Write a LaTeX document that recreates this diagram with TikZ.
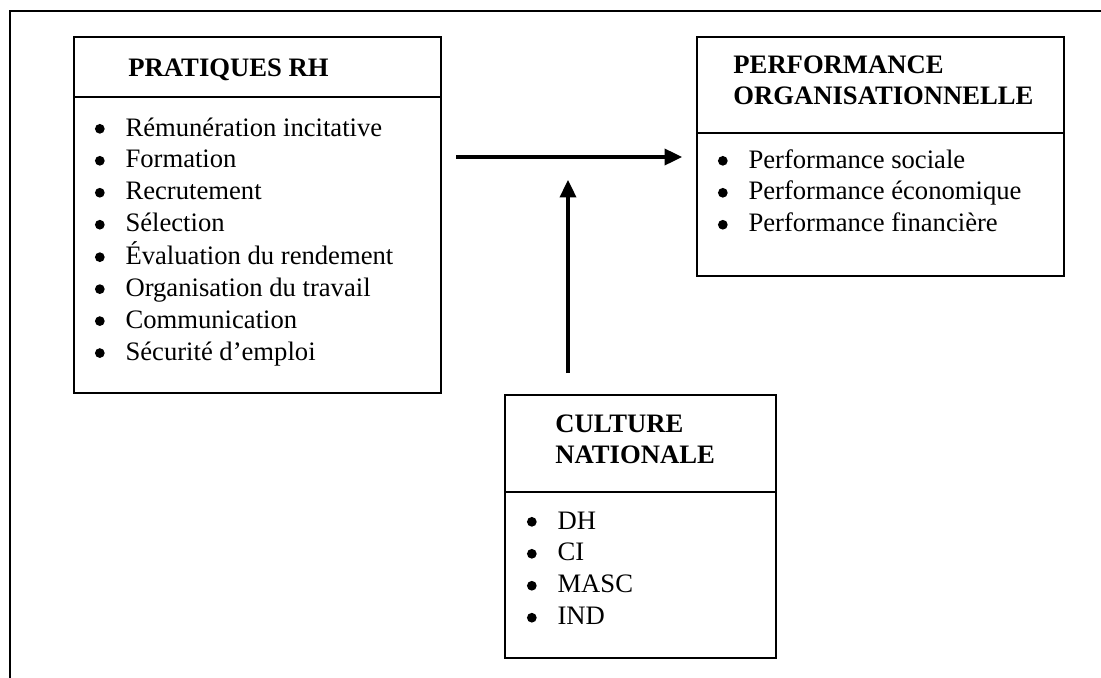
\documentclass[tikz,border=0pt]{standalone}
\usepackage{fontspec}
\setmainfont{Liberation Serif}
\usetikzlibrary{calc,arrows.meta,positioning}
\newcommand{\puce}{\raisebox{1.0pt}{\tikz\fill (0,0) circle (2.1pt);}}

\begin{document}
\begin{tikzpicture}[x=0.4317pt,y=-0.4317pt,
 box/.style={line width=0.9pt},
 titre/.style={anchor=base west,inner sep=0pt,font=\bfseries\fontsize{11.5}{13.8}\selectfont},
 liste/.style={anchor=base west,inner sep=0pt,font=\fontsize{11.5}{13.8}\selectfont},
 fleche/.style={line width=1.3pt,-{Triangle[length=7.5pt,width=7pt]}}]
\useasboundingbox (0,0) rectangle (1101,678);
% cadre
\coordinate (O) at (10,11);
\draw [box] (10,680) -- (O) -- (1103,11);
% pratiques RH
\coordinate (A1) at (74,37);
\coordinate (A2) at (441,393);
\draw [box] (A1) rectangle (A2);
\draw [box] (A1|-0,97) -- (A2|-0,97);
\node [titre] (rh) at (128,76) {PRATIQUES RH};
\node [liste] (rhliste) at (94.5,136) {\begin{tabular}[t]{@{}l@{\hspace{9pt}}l@{}}
\puce & Rémunération incitative\\
\puce & Formation\\
\puce & Recrutement\\
\puce & Sélection\\
\puce & Évaluation du rendement\\
\puce & Organisation du travail\\
\puce & Communication\\
\puce & Sécurité d’emploi
\end{tabular}};
% performance organisationnelle
\coordinate (B1) at (697,37);
\coordinate (B2) at (1064,276);
\draw [box] (B1) rectangle (B2);
\draw [box] (B1|-0,133) -- (B2|-0,133);
\node [titre] (perf) at (733,73) {\begin{tabular}[t]{@{}l@{}}PERFORMANCE\\ ORGANISATIONNELLE\end{tabular}};
\node [liste] (perfliste) at (717.5,168) {\begin{tabular}[t]{@{}l@{\hspace{9pt}}l@{}}
\puce & Performance sociale\\
\puce & Performance économique\\
\puce & Performance financière
\end{tabular}};
% culture nationale
\coordinate (C1) at (505,395);
\coordinate (C2) at (776,658);
\draw [box] (C1) rectangle (C2);
\draw [box] (C1|-0,492) -- (C2|-0,492);
\node [titre] (cult) at (555,432) {\begin{tabular}[t]{@{}l@{}}CULTURE\\ NATIONALE\end{tabular}};
\node [liste] (cultliste) at (526.5,529) {\begin{tabular}[t]{@{}l@{\hspace{9pt}}l@{}}
\puce & DH\\
\puce & CI\\
\puce & MASC\\
\puce & IND
\end{tabular}};
% fleches
\coordinate (H1) at (456,157);
\coordinate (H2) at (682,157);
\coordinate (V1) at (568,373);
\coordinate (V2) at (568,180);
\draw [fleche] (H1) -- (H2);
\draw [fleche] (V1) -- (V2);
\end{tikzpicture}
\end{document}
